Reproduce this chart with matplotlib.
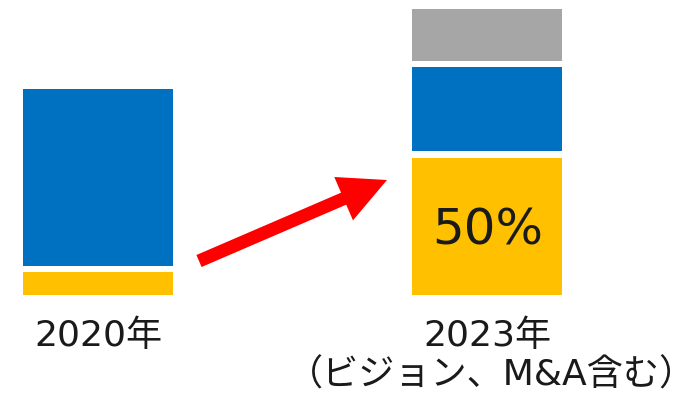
import matplotlib
matplotlib.use('Agg')
import matplotlib.pyplot as plt

plt.rcParams['font.family'] = ['DejaVu Sans', 'Noto Sans CJK JP']

# values as share of the 2023 total (%)
years = ['2020年', '2023年']
notes = ['', '（ビジョン、M&A含む）']
yellow = [8.2, 50.0]
blue = [64.4, 30.6]
gray = [0.0, 18.9]
share_label = '50%'

GAP = 2.3
X = [0, 1]
W = 0.385

fig = plt.figure(figsize=(6.95, 3.93), dpi=100)
ax = fig.add_axes([0, 0.2494, 1, 0.7277])
ax.set_xlim(-0.2516, 1.533)
ax.set_ylim(0, yellow[1] + blue[1] + gray[1] + 2 * GAP)
ax.axis('off')

ax.bar(X, yellow, W, color='#FFC000')
blue_bottom = [y + GAP for y in yellow]
ax.bar(X, blue, W, bottom=blue_bottom, color='#0070C0')
for x, y, b, g in zip(X, yellow, blue, gray):
    if g > 0:
        ax.bar(x, g, W, bottom=y + b + 2 * GAP, color='#A6A6A6')

ax.text(X[1], yellow[1] / 2 - 1.4, share_label, ha='center', va='center',
        fontsize=36, color='#1a1a1a')

tr = ax.get_xaxis_transform()
for x, lab, note in zip(X, years, notes):
    ax.text(x, -0.145, lab, transform=tr, ha='center', va='center',
            fontsize=26, color='#1a1a1a')
    if note:
        ax.text(x + 0.01, -0.28, note, transform=tr, ha='center', va='center',
                fontsize=26, color='#1a1a1a')

# growth arrow
ax.annotate('', xy=(387, 213), xycoords='figure pixels',
            xytext=(199, 132), textcoords='figure pixels',
            arrowprops=dict(arrowstyle='simple,head_length=34,head_width=34,tail_width=9.4',
                            mutation_scale=1, color='#FF0000', lw=0,
                            shrinkA=0, shrinkB=0))

fig.savefig('out.png', dpi=100)
